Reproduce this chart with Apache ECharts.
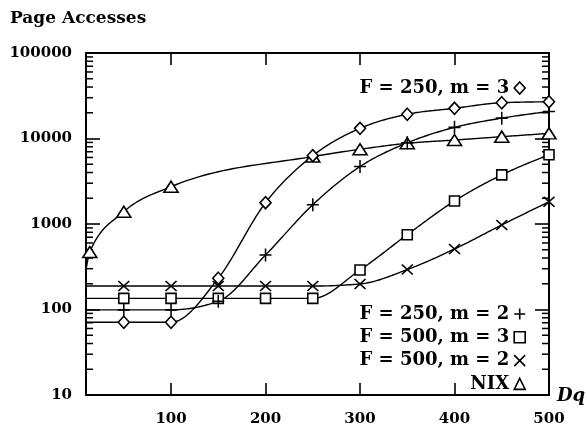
<!DOCTYPE html>
<html><head><meta charset="utf-8">
<script src="https://cdn.jsdelivr.net/npm/echarts@6/dist/echarts.min.js"></script>
<style>html,body{margin:0;padding:0;background:#fff}#c{width:587px;height:429px}</style>
</head><body><div id="c"></div>
<script>
// ---- data ----
const xTickValues = [100, 200, 300, 400, 500];
const yMinorTickValues = [20,30,40,50,60,70,80,90,200,300,400,500,600,700,800,900,
  2000,3000,4000,5000,6000,7000,8000,9000,20000,30000,40000,50000,60000,70000,80000,90000];

const nameF250m3 = 'F = 250, m = 3';
const nameF250m2 = 'F = 250, m = 2';
const nameF500m3 = 'F = 500, m = 3';
const nameF500m2 = 'F = 500, m = 2';
const nameNIX = 'NIX';

// curves start at the left frame (Dq = 10) without a marker
const dqF250m3 = [10, 50, 100, 150, 200, 250, 300, 350, 400, 450, 500];
const valF250m3 = [71, 71, 71, 232, 1775, 6300, 13150, 19200, 22550, 26200, 26900];

const dqF250m2 = [10, 50, 100, 150, 200, 250, 300, 350, 400, 450, 500];
const valF250m2 = [99, 99, 99, 125, 434, 1680, 4700, 8900, 13500, 17300, 20700];

const dqF500m3 = [10, 50, 100, 150, 200, 250, 300, 350, 400, 450, 500];
const valF500m3 = [135, 135, 135, 135, 135, 135, 290, 750, 1860, 3750, 6450];

const dqF500m2 = [10, 50, 100, 150, 200, 250, 300, 350, 400, 450, 500];
const valF500m2 = [188, 188, 188, 188, 188, 188, 199, 293, 510, 975, 1820];

const dqNIX = [10, 14, 50, 100, 250, 300, 350, 400, 450, 500];
const valNIX = [290, 470, 1390, 2730, 6150, 7480, 8790, 9590, 10500, 11480];

// ---- styling ----
const X_MIN = 10, X_MAX = 500;
const FONT = 'DejaVu Serif';
const plusPath = 'path://M5,0L5,10M0,5L10,5';
const crossPath = 'path://M0,0L10,10M10,0L0,10';

function pts(xs, ys) {
  return xs.map((x, i) => ({
    value: [x, ys[i]],
    symbol: x <= X_MIN ? 'none' : undefined
  }));
}

// monotone cubic (d3 monotoneX style) drawn in pixel space through the data points
function sgn(v) { return v < 0 ? -1 : 1; }
function slope3(x0, y0, x1, y1, x2, y2) {
  const h0 = x1 - x0, h1 = x2 - x1;
  const s0 = (y1 - y0) / h0, s1 = (y2 - y1) / h1;
  const p = (s0 * h1 + s1 * h0) / (h0 + h1);
  return (sgn(s0) + sgn(s1)) * Math.min(Math.abs(s0), Math.abs(s1), 0.5 * Math.abs(p)) || 0;
}
function slope2(x0, y0, x1, y1, t) {
  const h = x1 - x0;
  return h ? (3 * (y1 - y0) / h - t) / 2 : t;
}
function curvePoints(P) {
  const n = P.length, m = new Array(n);
  for (let i = 1; i < n - 1; i++) m[i] = slope3(P[i-1][0], P[i-1][1], P[i][0], P[i][1], P[i+1][0], P[i+1][1]);
  m[0] = slope2(P[0][0], P[0][1], P[1][0], P[1][1], n > 2 ? m[1] : (P[1][1]-P[0][1])/(P[1][0]-P[0][0]));
  m[n-1] = slope2(P[n-1][0], P[n-1][1], P[n-2][0], P[n-2][1], n > 2 ? m[n-2] : m[0]);
  const out = [P[0]];
  for (let i = 0; i < n - 1; i++) {
    const [x0, y0] = P[i], [x1, y1] = P[i+1], h = (x1 - x0) / 3;
    const c1 = [x0 + h, y0 + h * m[i]], c2 = [x1 - h, y1 - h * m[i+1]];
    const steps = 30;
    for (let k = 1; k <= steps; k++) {
      const t = k / steps, u = 1 - t;
      out.push([
        u*u*u*x0 + 3*u*u*t*c1[0] + 3*u*t*t*c2[0] + t*t*t*x1,
        u*u*u*y0 + 3*u*u*t*c1[1] + 3*u*t*t*c2[1] + t*t*t*y1
      ]);
    }
  }
  return out;
}

function curveSeries(name, xs, ys) {
  return {
    type: 'custom', name: name + ' curve', silent: true, z: 2,
    data: pts(xs, ys),
    renderItem: function (params, api) {
      if (params.dataIndex !== 0) return null;
      const P = xs.map((x, i) => api.coord([x, ys[i]]));
      return {
        type: 'polyline', shape: { points: curvePoints(P) },
        style: { stroke: '#000', lineWidth: 1.4, fill: null }
      };
    }
  };
}

function markerSeries(name, xs, ys, symbol, size) {
  return {
    type: 'scatter', name: name, data: pts(xs, ys),
    symbol: symbol, symbolSize: size,
    itemStyle: { color: '#fff', borderColor: '#000', borderWidth: 1.6, opacity: 1 },
    emphasis: { disabled: true }, z: 3
  };
}

const tickStyle = { color: '#000', width: 1.6 };
const axisLineStyle = { color: '#000', width: 2 };
const labelFont = { color: '#000', fontFamily: FONT, fontWeight: 'bold', fontSize: 15 };
const legendText = { color: '#000', fontFamily: FONT, fontWeight: 'bold', fontSize: 18, lineHeight: 16 };
const legendItemStyle = { color: '#fff', borderColor: '#000', borderWidth: 1.6 };

const chart = echarts.init(document.getElementById('c'), null, { renderer: 'canvas' });
chart.setOption({
  animation: false,
  backgroundColor: '#fff',
  title: {
    text: 'Page Accesses', left: 5, top: 5,
    textStyle: { color: '#000', fontFamily: FONT, fontWeight: 'bold', fontSize: 17 }
  },
  graphic: [{
    type: 'text', left: 557, top: 387, silent: true,
    style: { text: 'Dq', fill: '#000', font: 'italic bold 18px "DejaVu Serif"' }
  }],
  grid: { left: 86, top: 53, width: 463, height: 342, containLabel: false },
  xAxis: [{
    type: 'value', min: X_MIN, max: X_MAX, position: 'bottom',
    axisLine: { lineStyle: axisLineStyle },
    axisTick: { inside: true, length: 12, customValues: xTickValues, lineStyle: tickStyle },
    axisLabel: Object.assign({ customValues: xTickValues, margin: 17 }, labelFont),
    splitLine: { show: false }
  }, {
    type: 'value', min: X_MIN, max: X_MAX, position: 'top',
    axisLine: { lineStyle: axisLineStyle },
    axisTick: { inside: true, length: 12, customValues: xTickValues, lineStyle: tickStyle },
    axisLabel: { show: false }, splitLine: { show: false }
  }],
  yAxis: [{
    type: 'log', logBase: 10, min: 10, max: 100000, position: 'left',
    axisLine: { lineStyle: axisLineStyle },
    axisTick: { inside: true, length: 14, lineStyle: tickStyle },
    axisLabel: Object.assign({ margin: 14, formatter: v => String(Math.round(v)) }, labelFont),
    splitLine: { show: false }
  }, {
    type: 'log', logBase: 10, min: 10, max: 100000, position: 'right',
    axisLine: { lineStyle: axisLineStyle },
    axisTick: { inside: true, length: 14, lineStyle: tickStyle },
    axisLabel: { show: false }, splitLine: { show: false }
  }],
  legend: [{
    data: [{ name: nameF250m3, icon: 'diamond' }],
    orient: 'vertical', align: 'right', right: 61, top: 79, padding: 0,
    itemWidth: 11, itemHeight: 12, itemGap: 6, selectedMode: false,
    textStyle: legendText, itemStyle: legendItemStyle
  }, {
    data: [
      { name: nameF250m2, icon: plusPath },
      { name: nameF500m3, icon: 'rect' },
      { name: nameF500m2, icon: crossPath },
      { name: nameNIX, icon: 'triangle' }
    ],
    orient: 'vertical', align: 'right', right: 61, top: 305, padding: 0,
    itemWidth: 11, itemHeight: 11, itemGap: 5.3, selectedMode: false,
    textStyle: legendText, itemStyle: legendItemStyle
  }],
  series: [
    {
      type: 'custom', name: 'minorTicks', silent: true, z: 1,
      data: yMinorTickValues.map(v => [X_MIN, v]),
      renderItem: function (params, api) {
        const v = api.value(1);
        const a = api.coord([X_MIN, v]);
        const b = api.coord([X_MAX, v]);
        const st = { stroke: '#000', lineWidth: 1.5 };
        return {
          type: 'group', children: [
            { type: 'line', shape: { x1: a[0], y1: a[1], x2: a[0] + 7, y2: a[1] }, style: st },
            { type: 'line', shape: { x1: b[0] - 7, y1: b[1], x2: b[0], y2: b[1] }, style: st }
          ]
        };
      }
    },
    curveSeries(nameNIX, dqNIX, valNIX),
    curveSeries(nameF500m2, dqF500m2, valF500m2),
    curveSeries(nameF500m3, dqF500m3, valF500m3),
    curveSeries(nameF250m2, dqF250m2, valF250m2),
    curveSeries(nameF250m3, dqF250m3, valF250m3),
    markerSeries(nameNIX, dqNIX, valNIX, 'triangle', [14, 11]),
    markerSeries(nameF500m2, dqF500m2, valF500m2, crossPath, [11, 10]),
    markerSeries(nameF500m3, dqF500m3, valF500m3, 'rect', [10, 10]),
    markerSeries(nameF250m2, dqF250m2, valF250m2, plusPath, [12, 13]),
    markerSeries(nameF250m3, dqF250m3, valF250m3, 'diamond', [11, 12])
  ]
});
</script>
</body></html>
